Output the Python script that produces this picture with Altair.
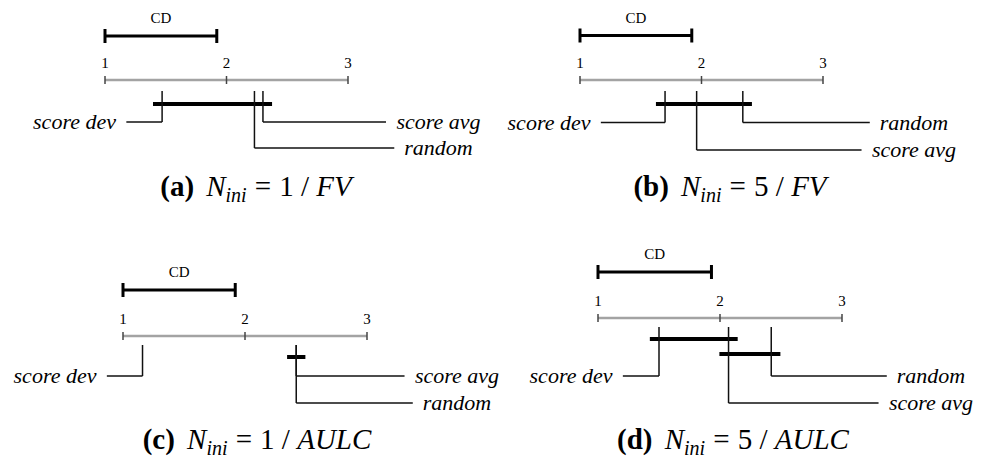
import altair as alt
import pandas as pd

# ---------------- data ----------------
METHODS = ["score dev", "score avg", "random"]
RANKS_A = [1.47, 2.30, 2.23]
RANKS_B = [1.70, 1.96, 2.34]
RANKS_C = [1.16, 2.42, 2.42]
RANKS_D = [1.50, 2.07, 2.42]
CD_VALUES = [0.92, 0.92, 0.92, 0.93]
CLIQUES_A = [["score dev", "score avg"]]
CLIQUES_B = [["score dev", "random"]]
CLIQUES_C = [["score avg", "random"]]
CLIQUES_D = [["score dev", "score avg"], ["score avg", "random"]]
PANEL_LETTERS = ["a", "b", "c", "d"]
N_INI = ["1", "5", "1", "5"]
METRICS = ["FV", "FV", "AULC", "AULC"]
TICKS = [1, 2, 3]

# ---------------- layout / style ----------------
SERIF = "Liberation Serif"
LABEL_SIZE = 22
SMALL_SIZE = 15
CAP_SIZE = 29
SUB_SIZE = 20
CLIQUE_EXT = 0.075
SH = 6  # column 2 starts 6px later than the mid line (left column is 500 wide)

LAYOUT = [
    dict(W=500, H=230, ax1=105, step=121.5, cd_y=36, axis_y=80, clique_y=[104], vstart=91,
         left_y=122, right_y=[122, 148], left_c=74.5, right_c=438.5, cap_c=256, cap_base=196),
    dict(W=487, H=230, ax1=86 - SH, step=121.5, cd_y=35.5, axis_y=80, clique_y=[104], vstart=91,
         left_y=122.5, right_y=[122.5, 150], left_c=55 - SH, right_c=420 - SH, cap_c=236 - SH, cap_base=196),
    dict(W=500, H=229, ax1=123, step=122, cd_y=60, axis_y=106, clique_y=[127], vstart=115,
         left_y=146, right_y=[146, 173], left_c=55, right_c=457, cap_c=257, cap_base=219),
    dict(W=487, H=229, ax1=104 - SH, step=122, cd_y=42, axis_y=88, clique_y=[109, 124], vstart=97,
         left_y=146, right_y=[146, 173], left_c=77 - SH, right_c=437 - SH, cap_c=239 - SH, cap_base=219),
]

IT = {'s': 389, 'c': 444, 'o': 500, 'r': 389, 'e': 444, ' ': 250, 'd': 500, 'v': 444,
      'a': 500, 'g': 500, 'n': 500, 'm': 722, 'N': 667, 'i': 278, 'F': 611, 'V': 611,
      'A': 611, 'U': 722, 'L': 556, 'C': 667}
RG = {' ': 250, '=': 564, '1': 500, '5': 500, '/': 278}
BD = {'(': 333, ')': 333, 'a': 500, 'b': 556, 'c': 444, 'd': 556}


def tw(s, table, size):
    return sum(table[ch] for ch in s) * size / 1000.0


def panel(idx, ranks, cliques):
    L = LAYOUT[idx]
    W, H, ax1, step = L["W"], L["H"], L["ax1"], L["step"]
    to_rank = lambda px: 1 + (px - ax1) / step
    xs = alt.Scale(domain=[to_rank(0), to_rank(W)], nice=False, zero=False)
    ys = alt.Scale(domain=[H, 0], nice=False, zero=False)
    X = lambda f: alt.X(f + ":Q", scale=xs, axis=None)
    X2 = lambda f: alt.X2(f)
    Y = lambda f: alt.Y(f + ":Q", scale=ys, axis=None)
    Y2 = lambda f: alt.Y2(f)
    cd = CD_VALUES[idx]
    layers = []

    # CD bar
    layers.append(alt.Chart(pd.DataFrame([{"x": 1, "x2": 1 + cd, "y": L["cd_y"]}]))
                  .mark_rule(color="black", strokeWidth=3)
                  .encode(x=X("x"), x2=X2("x2"), y=Y("y")))
    layers.append(alt.Chart(pd.DataFrame([{"x": v, "y": L["cd_y"] - 7, "y2": L["cd_y"] + 7}
                                          for v in (1, 1 + cd)]))
                  .mark_rule(color="black", strokeWidth=3)
                  .encode(x=X("x"), y=Y("y"), y2=Y2("y2")))
    layers.append(alt.Chart(pd.DataFrame([{"x": 1 + cd / 2, "y": L["cd_y"] - 13, "t": "CD"}]))
                  .mark_text(font=SERIF, fontSize=SMALL_SIZE, baseline="alphabetic", align="center", color="black")
                  .encode(x=X("x"), y=Y("y"), text="t:N"))

    # axis
    layers.append(alt.Chart(pd.DataFrame([{"x": TICKS[0], "x2": TICKS[-1], "y": L["axis_y"]}]))
                  .mark_rule(color="#a3a3a3", strokeWidth=2.5)
                  .encode(x=X("x"), x2=X2("x2"), y=Y("y")))
    layers.append(alt.Chart(pd.DataFrame([{"x": t, "y": L["axis_y"] - 4, "y2": L["axis_y"] + 4} for t in TICKS]))
                  .mark_rule(color="#444444", strokeWidth=1.5)
                  .encode(x=X("x"), y=Y("y"), y2=Y2("y2")))
    layers.append(alt.Chart(pd.DataFrame([{"x": t, "y": L["axis_y"] - 12, "t": str(t)} for t in TICKS]))
                  .mark_text(font=SERIF, fontSize=SMALL_SIZE, baseline="alphabetic", align="center", color="black")
                  .encode(x=X("x"), y=Y("y"), text="t:N"))

    # cliques
    rk = dict(zip(METHODS, ranks))
    crow = []
    for k, (m1, m2) in enumerate(cliques):
        lo, hi = min(rk[m1], rk[m2]), max(rk[m1], rk[m2])
        crow.append({"x": lo - CLIQUE_EXT, "x2": hi + CLIQUE_EXT, "y": L["clique_y"][k]})
    layers.append(alt.Chart(pd.DataFrame(crow))
                  .mark_rule(color="black", strokeWidth=4)
                  .encode(x=X("x"), x2=X2("x2"), y=Y("y")))

    # labels: best (lowest rank) on left, others right (highest rank on top)
    order = sorted(range(len(METHODS)), key=lambda i: ranks[i])
    left = order[0]
    right = sorted(order[1:], key=lambda i: -ranks[i])
    vrows, hrows, trows = [], [], []
    m = METHODS[left]
    w = tw(m, IT, LABEL_SIZE)
    vrows.append({"x": ranks[left], "y": L["vstart"], "y2": L["left_y"]})
    hrows.append({"x": ranks[left], "x2": to_rank(L["left_c"] + w / 2 + 10), "y": L["left_y"]})
    trows.append({"x": to_rank(L["left_c"]), "y": L["left_y"] + 7, "t": m})
    for row, i in enumerate(right):
        m = METHODS[i]
        w = tw(m, IT, LABEL_SIZE)
        yy = L["right_y"][row]
        vrows.append({"x": ranks[i], "y": L["vstart"], "y2": yy})
        hrows.append({"x": ranks[i], "x2": to_rank(L["right_c"] - w / 2 - 10), "y": yy})
        trows.append({"x": to_rank(L["right_c"]), "y": yy + 7, "t": m})
    layers.append(alt.Chart(pd.DataFrame(vrows)).mark_rule(color="#111111", strokeWidth=1.5)
                  .encode(x=X("x"), y=Y("y"), y2=Y2("y2")))
    layers.append(alt.Chart(pd.DataFrame(hrows)).mark_rule(color="#111111", strokeWidth=1.5)
                  .encode(x=X("x"), x2=X2("x2"), y=Y("y")))
    layers.append(alt.Chart(pd.DataFrame(trows))
                  .mark_text(font=SERIF, fontSize=LABEL_SIZE, fontStyle="italic", baseline="alphabetic",
                             align="center", color="black")
                  .encode(x=X("x"), y=Y("y"), text="t:N"))

    # caption: (x) N_ini = n / METRIC
    F, S = CAP_SIZE, SUB_SIZE
    segs = [
        ("(%s)" % PANEL_LETTERS[idx], "bold", "normal", F, 0, BD),
        0.42 * F,
        ("N", "normal", "italic", F, 0, IT),
        ("ini", "normal", "italic", S, 6, IT),
        0.28 * F,
        ("=", "normal", "normal", F, 0, RG),
        0.28 * F,
        (N_INI[idx], "normal", "normal", F, 0, RG),
        0.25 * F,
        ("/", "normal", "normal", F, 0, RG),
        0.25 * F,
        (METRICS[idx], "normal", "italic", F, 0, IT),
    ]
    pos, cur = [], 0.0
    for s in segs:
        if isinstance(s, float):
            cur += s
        else:
            pos.append((cur, s))
            cur += tw(s[0], s[5], s[3])
    start = L["cap_c"] - cur / 2
    for off, (t, wt, st, sz, dy, _) in pos:
        layers.append(alt.Chart(pd.DataFrame([{"t": t}]))
                      .mark_text(text=t, font=SERIF, fontSize=sz, fontWeight=wt, fontStyle=st,
                                 align="left", baseline="alphabetic", color="black")
                      .encode(x=alt.value(start + off), y=alt.value(L["cap_base"] + dy)))

    return alt.layer(*layers).properties(width=W, height=H)


pa = panel(0, RANKS_A, CLIQUES_A)
pb = panel(1, RANKS_B, CLIQUES_B)
pc = panel(2, RANKS_C, CLIQUES_C)
pd_ = panel(3, RANKS_D, CLIQUES_D)

chart = alt.vconcat(
    alt.hconcat(pa, pb, spacing=0),
    alt.hconcat(pc, pd_, spacing=0),
    spacing=0,
).configure_view(stroke=None).properties(padding=0, background="white")

chart.save("out.html", embed_options={"renderer": "svg", "actions": False})
